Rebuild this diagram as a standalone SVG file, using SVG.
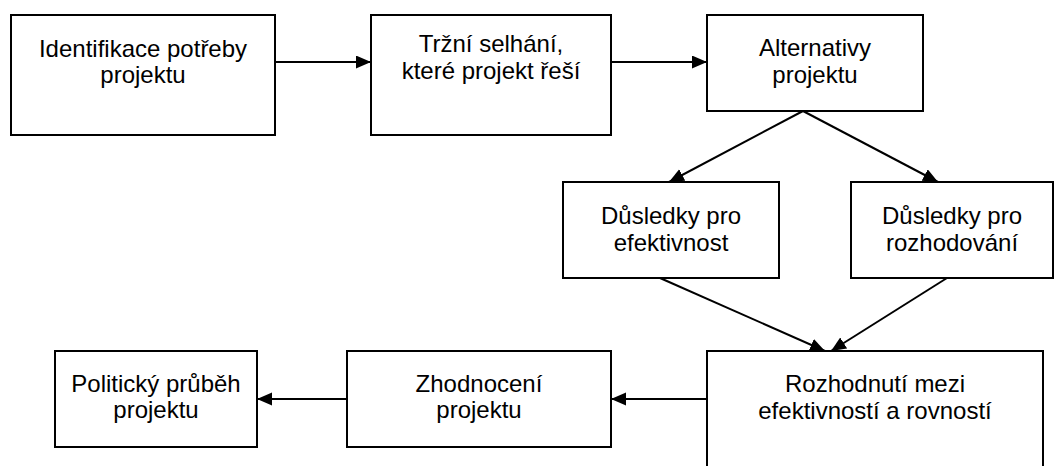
<svg xmlns="http://www.w3.org/2000/svg" width="1055" height="466" viewBox="0 0 1055 466">
<style>
.box{fill:#fff;stroke:#000;stroke-width:2}
.t{font-family:"Liberation Sans",Arial,sans-serif;font-size:24px;fill:#000;text-anchor:middle}
.c{stroke:#000;stroke-width:2;fill:none;marker-end:url(#ah)}
</style>
<defs>
<marker id="ah" markerUnits="userSpaceOnUse" markerWidth="16" markerHeight="14" refX="15" refY="6.5" orient="auto">
<path d="M0,0 L15,6.5 L0,13 z" fill="#000"/>
</marker>
</defs>
<rect width="1055" height="466" fill="#fff"/>
<g id="connectors">
<line class="c" x1="275" y1="62" x2="371" y2="62"/>
<line class="c" x1="611" y1="62" x2="707" y2="62"/>
<line class="c" x1="803" y1="111" x2="669" y2="182"/>
<line class="c" x1="803" y1="111" x2="938" y2="182"/>
<line class="c" x1="660" y1="278" x2="825" y2="351"/>
<line class="c" x1="947" y1="278" x2="831" y2="351"/>
<line class="c" x1="707" y1="399" x2="611" y2="399"/>
<line class="c" x1="347" y1="399" x2="257" y2="399"/>
</g>
<g id="n1"><rect class="box" x="11" y="15" width="264" height="120"/>
<text class="t" x="143" y="57">Identifikace potřeby</text><text class="t" x="143" y="83">projektu</text></g>
<g id="n2"><rect class="box" x="371" y="15" width="240" height="120"/>
<text class="t" x="491" y="52">Tržní selhání,</text><text class="t" x="491" y="79">které projekt řeší</text></g>
<g id="n3"><rect class="box" x="707" y="15" width="216" height="96"/>
<text class="t" x="815" y="56">Alternativy</text><text class="t" x="815" y="83">projektu</text></g>
<g id="n4"><rect class="box" x="563" y="182" width="216" height="96"/>
<text class="t" x="671" y="224">Důsledky pro</text><text class="t" x="671" y="251">efektivnost</text></g>
<g id="n5"><rect class="box" x="851" y="182" width="202" height="96"/>
<text class="t" x="952" y="224">Důsledky pro</text><text class="t" x="952" y="251">rozhodování</text></g>
<g id="n6"><rect class="box" x="707" y="351" width="336" height="140"/>
<text class="t" x="875" y="392">Rozhodnutí mezi</text><text class="t" x="875" y="419">efektivností a rovností</text></g>
<g id="n7"><rect class="box" x="347" y="351" width="264" height="96"/>
<text class="t" x="479" y="392">Zhodnocení</text><text class="t" x="479" y="418">projektu</text></g>
<g id="n8"><rect class="box" x="55" y="351" width="202" height="96"/>
<text class="t" x="156" y="392">Politický průběh</text><text class="t" x="156" y="418">projektu</text></g>
</svg>
